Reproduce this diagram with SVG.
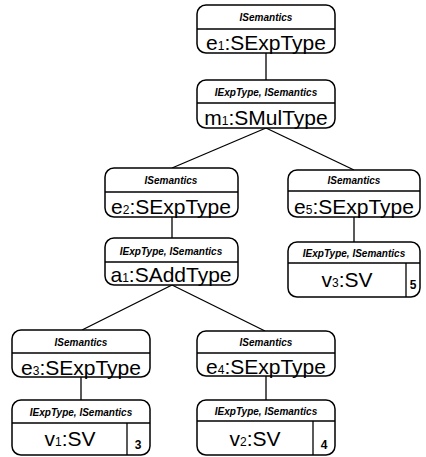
<svg xmlns="http://www.w3.org/2000/svg" width="426" height="457" viewBox="0 0 426 457">
<style>
.box{fill:#fff;stroke:#000;stroke-width:1.5}
.ln{stroke:#000;stroke-width:1.3;fill:none}
.st{font-family:"Liberation Sans",Arial,sans-serif;font-size:10px;font-weight:bold;font-style:italic;text-anchor:middle}
.nm{font-family:"Liberation Sans",Arial,sans-serif;font-size:21px;text-anchor:middle}
.sb{font-size:12px}
.num{font-family:"Liberation Sans",Arial,sans-serif;font-size:12px;font-weight:bold;text-anchor:middle}
</style>
<rect width="426" height="457" fill="#fff"/>
<g id="connectors">
<line class="ln" x1="266" y1="53" x2="266" y2="80"/>
<line class="ln" x1="266" y1="128" x2="172" y2="168"/>
<line class="ln" x1="266" y1="128" x2="354" y2="170"/>
<line class="ln" x1="172" y1="217" x2="172" y2="238"/>
<line class="ln" x1="354" y1="217" x2="354" y2="242"/>
<line class="ln" x1="172" y1="285" x2="82" y2="330"/>
<line class="ln" x1="172" y1="285" x2="265" y2="331"/>
<line class="ln" x1="81" y1="377" x2="81" y2="400"/>
<line class="ln" x1="266" y1="376" x2="266" y2="400"/>
</g>
<g id="e1">
<rect class="box" x="197" y="5" width="138" height="48" rx="9"/>
<line class="ln" x1="197" y1="29" x2="335" y2="29"/>
<text class="st" x="266" y="21">ISemantics</text>
<text class="nm" x="266" y="50">e<tspan class="sb">1</tspan>:SExpType</text>
</g>
<g id="m1">
<rect class="box" x="197" y="80" width="138" height="48" rx="9"/>
<line class="ln" x1="197" y1="103" x2="335" y2="103"/>
<text class="st" x="266" y="96">IExpType, ISemantics</text>
<text class="nm" x="266" y="125">m<tspan class="sb">1</tspan>:SMulType</text>
</g>
<g id="e2">
<rect class="box" x="105" y="168" width="133" height="49" rx="9"/>
<line class="ln" x1="105" y1="192" x2="238" y2="192"/>
<text class="st" x="171" y="184">ISemantics</text>
<text class="nm" x="171" y="214">e<tspan class="sb">2</tspan>:SExpType</text>
</g>
<g id="e5">
<rect class="box" x="288" y="170" width="132" height="47" rx="9"/>
<line class="ln" x1="288" y1="191" x2="420" y2="191"/>
<text class="st" x="354" y="184">ISemantics</text>
<text class="nm" x="354" y="214">e<tspan class="sb">5</tspan>:SExpType</text>
</g>
<g id="a1">
<rect class="box" x="105" y="238" width="133" height="47" rx="9"/>
<line class="ln" x1="105" y1="262" x2="238" y2="262"/>
<text class="st" x="171" y="255">IExpType, ISemantics</text>
<text class="nm" x="171" y="282">a<tspan class="sb">1</tspan>:SAddType</text>
</g>
<g id="v3">
<rect class="box" x="288" y="242" width="132" height="55" rx="9"/>
<line class="ln" x1="288" y1="263" x2="420" y2="263"/>
<line class="ln" x1="406" y1="263" x2="406" y2="297"/>
<text class="st" x="354" y="257">IExpType, ISemantics</text>
<text class="nm" x="347" y="287">v<tspan class="sb">3</tspan>:SV</text>
<text class="num" x="413" y="289">5</text>
</g>
<g id="e3">
<rect class="box" x="12" y="330" width="138" height="47" rx="9"/>
<line class="ln" x1="12" y1="353" x2="150" y2="353"/>
<text class="st" x="81" y="346">ISemantics</text>
<text class="nm" x="81" y="375">e<tspan class="sb">3</tspan>:SExpType</text>
</g>
<g id="v1">
<rect class="box" x="12" y="400" width="138" height="55" rx="9"/>
<line class="ln" x1="12" y1="423" x2="150" y2="423"/>
<line class="ln" x1="127" y1="423" x2="127" y2="455"/>
<text class="st" x="81" y="416">IExpType, ISemantics</text>
<text class="nm" x="70" y="446">v<tspan class="sb">1</tspan>:SV</text>
<text class="num" x="138" y="449">3</text>
</g>
<g id="e4">
<rect class="box" x="197" y="331" width="138" height="45" rx="9"/>
<line class="ln" x1="197" y1="353" x2="335" y2="353"/>
<text class="st" x="266" y="346">ISemantics</text>
<text class="nm" x="266" y="374">e<tspan class="sb">4</tspan>:SExpType</text>
</g>
<g id="v2">
<rect class="box" x="197" y="400" width="138" height="55" rx="9"/>
<line class="ln" x1="197" y1="421" x2="335" y2="421"/>
<line class="ln" x1="313" y1="421" x2="313" y2="455"/>
<text class="st" x="266" y="415">IExpType, ISemantics</text>
<text class="nm" x="255" y="446">v<tspan class="sb">2</tspan>:SV</text>
<text class="num" x="324" y="449">4</text>
</g>
</svg>
